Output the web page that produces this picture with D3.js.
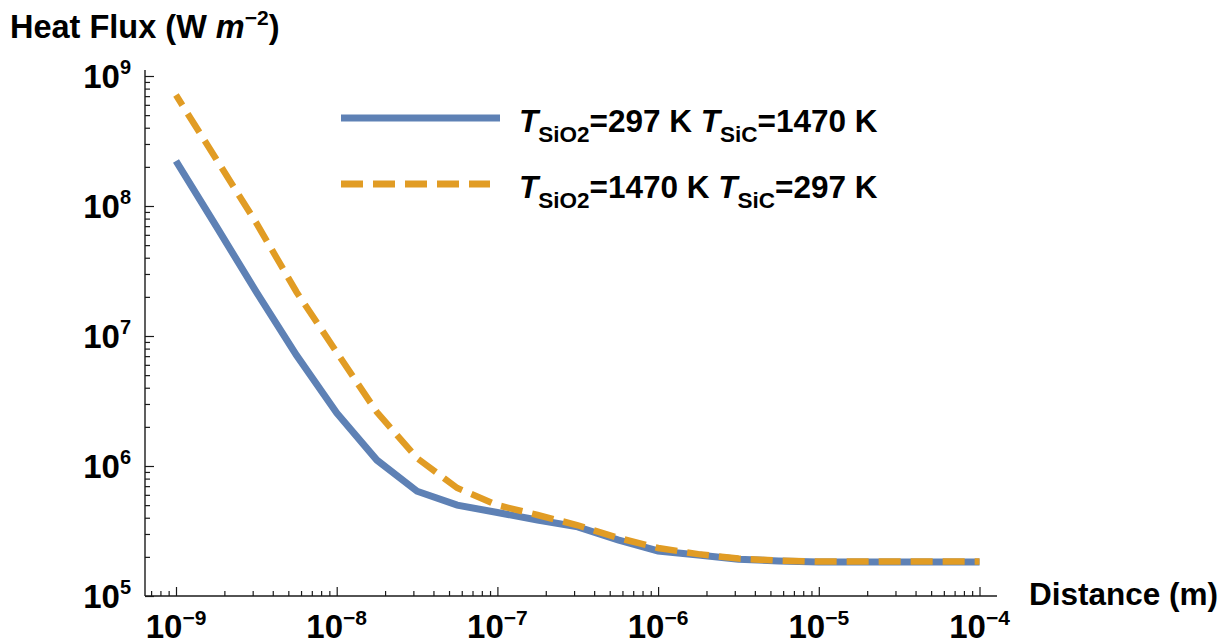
<!DOCTYPE html>
<html>
<head>
<meta charset="utf-8">
<script src="https://cdn.jsdelivr.net/npm/d3@7"></script>
<style>
  html, body { margin: 0; padding: 0; background: #fff; }
  svg { display: block; font-family: "Liberation Sans", Arial, sans-serif; font-weight: bold; }
</style>
</head>
<body>
<svg id="chart" width="1228" height="644"></svg>
<script>
// ---- data ----
const distance = [1e-9, 1.778e-9, 3.162e-9, 5.623e-9, 1e-8, 1.778e-8, 3.162e-8, 5.623e-8,
                  1e-7, 1.778e-7, 3.162e-7, 5.623e-7, 1e-6, 1.778e-6, 3.162e-6, 5.623e-6,
                  1e-5, 1.778e-5, 3.162e-5, 5.623e-5, 1e-4];
const fluxSiO2Cold = [2.22e8, 7.0e7, 2.18e7, 7.1e6, 2.56e6, 1.11e6, 6.4e5, 5.0e5,
                      4.39e5, 3.84e5, 3.40e5, 2.70e5, 2.22e5, 2.07e5, 1.92e5, 1.86e5,
                      1.83e5, 1.83e5, 1.83e5, 1.83e5, 1.83e5];
const fluxSiO2Hot  = [7.14e8, 2.30e8, 7.4e7, 2.18e7, 7.5e6, 2.6e6, 1.15e6, 6.77e5,
                      5.0e5, 4.2e5, 3.5e5, 2.8e5, 2.34e5, 2.1e5, 1.94e5, 1.87e5,
                      1.84e5, 1.84e5, 1.84e5, 1.84e5, 1.84e5];
const xTickExponents = [-9, -8, -7, -6, -5, -4];
const yTickExponents = [5, 6, 7, 8, 9];
const seriesNames = [
  {T1: "SiO2", v1: "=297 K ", T2: "SiC", v2: "=1470 K"},
  {T1: "SiO2", v1: "=1470 K ", T2: "SiC", v2: "=297 K"}
];
const colors = ["#5E81B5", "#E19C24"];

// ---- layout ----
const svg = d3.select("#chart");
const x = d3.scaleLog().domain([1e-9, 1e-4]).range([176, 979.5]);
const y = d3.scaleLog().domain([1e5, 1e9]).range([596, 76]);
const xLeft = 145, xRight = 997, yTop = 70, yBottom = 596;
const axisColor = "#1a1a1a";

// minor ticks
function minorTicks(scale, lo, hi, pxMin, pxMax) {
  const out = [];
  for (let e = lo; e <= hi; e++) {
    for (let m = 2; m <= 9; m++) {
      const v = m * Math.pow(10, e);
      const p = scale(v);
      if (p >= Math.min(pxMin, pxMax) && p <= Math.max(pxMin, pxMax)) out.push(v);
    }
  }
  return out;
}
const xMinor = minorTicks(x, -10, -4, xLeft, xRight);
const yMinor = minorTicks(y, 5, 9, yBottom, yTop);
const xMajor = xTickExponents.map(e => Math.pow(10, e));
const yMajor = yTickExponents.map(e => Math.pow(10, e));

// x axis
const gx = svg.append("g").attr("transform", `translate(0,${yBottom})`);
gx.append("g").call(d3.axisBottom(x).tickValues(xMajor).tickSize(-9).tickFormat(""))
  .call(g => g.select(".domain").remove());
gx.append("g").call(d3.axisBottom(x).tickValues(xMinor).tickSize(-5).tickFormat(""))
  .call(g => g.select(".domain").remove());
gx.selectAll("line").attr("stroke", axisColor).attr("stroke-width", 1.2);
gx.append("line").attr("x1", xLeft).attr("x2", xRight).attr("y1", 0).attr("y2", 0)
  .attr("stroke", axisColor).attr("stroke-width", 1.4);

// y axis
const gy = svg.append("g").attr("transform", `translate(${xLeft},0)`);
gy.append("g").call(d3.axisLeft(y).tickValues(yMajor).tickSize(-9).tickFormat(""))
  .call(g => g.select(".domain").remove());
gy.append("g").call(d3.axisLeft(y).tickValues(yMinor).tickSize(-5).tickFormat(""))
  .call(g => g.select(".domain").remove());
gy.selectAll("line").attr("stroke", axisColor).attr("stroke-width", 1.2);
gy.append("line").attr("x1", 0).attr("x2", 0).attr("y1", yTop).attr("y2", yBottom)
  .attr("stroke", axisColor).attr("stroke-width", 1.4);

// x tick labels
xTickExponents.forEach(e => {
  const t = svg.append("text").attr("x", x(Math.pow(10, e))).attr("y", 638)
    .attr("text-anchor", "middle").attr("font-size", 33).attr("fill", "#000");
  t.append("tspan").text("10");
  t.append("tspan").attr("font-size", 21).attr("dy", -13).text("\u2212" + Math.abs(e));
});
// y tick labels
yTickExponents.forEach(e => {
  const t = svg.append("text").attr("x", 131).attr("y", y(Math.pow(10, e)) + 12)
    .attr("text-anchor", "end").attr("font-size", 33).attr("fill", "#000");
  t.append("tspan").text("10");
  t.append("tspan").attr("font-size", 20).attr("dy", -14).text(String(e));
});

// axis titles
const title = svg.append("text").attr("x", 10).attr("y", 38).attr("font-size", 32.5).attr("fill", "#000");
title.append("tspan").text("Heat Flux (W ");
title.append("tspan").attr("font-style", "italic").text("m");
title.append("tspan").attr("font-size", 21).attr("dy", -13).text("\u22122");
title.append("tspan").attr("dy", 13).text(")");

svg.append("text").attr("x", 1029).attr("y", 605).attr("font-size", 31.5).attr("fill", "#000")
  .text("Distance (m)");

// lines
const line = d3.line().x(d => x(d[0])).y(d => y(d[1]));
const dataA = distance.map((d, i) => [d, fluxSiO2Cold[i]]);
const dataB = distance.map((d, i) => [d, fluxSiO2Hot[i]]);
svg.append("path").attr("d", line(dataA)).attr("fill", "none")
  .attr("stroke", colors[0]).attr("stroke-width", 7).attr("stroke-linejoin", "miter");
svg.append("path").attr("d", line(dataB)).attr("fill", "none")
  .attr("stroke", colors[1]).attr("stroke-width", 6.5).attr("stroke-dasharray", "22,10")
  .attr("stroke-dashoffset", 10);

// legend
const legendY = [118, 184];
seriesNames.forEach((s, i) => {
  const ly = legendY[i];
  const l = svg.append("line").attr("x1", 341).attr("x2", i === 0 ? 500 : 490)
    .attr("y1", ly).attr("y2", ly).attr("stroke", colors[i]).attr("stroke-width", 7);
  if (i === 1) l.attr("stroke-dasharray", "22,10");
  const t = svg.append("text").attr("x", 519).attr("y", ly + 14).attr("font-size", 31.5).attr("fill", "#000");
  t.append("tspan").attr("font-style", "italic").text("T");
  t.append("tspan").attr("font-size", 22.5).attr("dy", 10).text(s.T1);
  t.append("tspan").attr("dy", -10).text(s.v1);
  t.append("tspan").attr("font-style", "italic").text("T");
  t.append("tspan").attr("font-size", 22.5).attr("dy", 10).text(s.T2);
  t.append("tspan").attr("dy", -10).text(s.v2);
});
</script>
</body>
</html>
